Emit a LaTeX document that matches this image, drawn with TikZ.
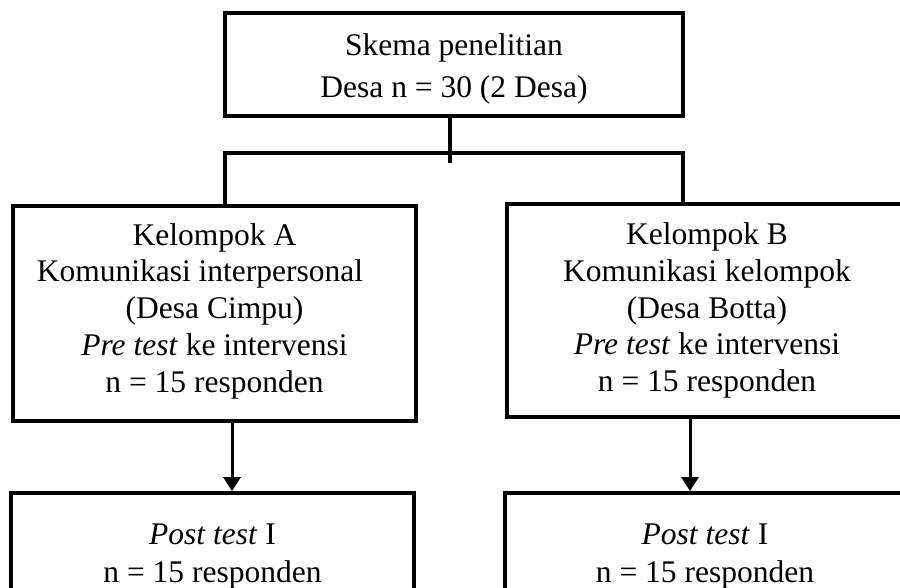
\documentclass[tikz,border=0pt]{standalone}
\usepackage{fontspec}
\setmainfont{Liberation Serif}
\usetikzlibrary{arrows.meta}
\begin{document}
\begin{tikzpicture}[x=1pt,y=1pt,
  box/.style={draw=black, line width=3.8pt, align=center, inner sep=0pt, font=\fontsize{31.5}{36.75}\selectfont},
  conn/.style={line width=3.5pt},
  arr/.style={line width=3pt, -{Triangle[width=17pt,length=14pt]}}]
\clip (0,0) rectangle (900,588);
\node[box, minimum width=458pt, minimum height=103pt, font=\fontsize{31.5}{42}\selectfont] (T) at (454,523.5) {\rule{0pt}{30pt}Skema penelitian\\Desa n = 30 (2 Desa)};
\node[box, minimum width=403pt, minimum height=215pt] (A) at (214.5,274.5) {Kelompok A\\\mbox{Komunikasi interpersonal\hspace{29pt}}\\(Desa Cimpu)\\\textit{Pre test} ke intervensi\\n = 15 responden\rule[-11.5pt]{0pt}{11.5pt}};
\node[box, minimum width=400pt, minimum height=213pt] (B) at (707,277.5) {Kelompok B\\Komunikasi kelompok\\(Desa Botta)\\\textit{Pre test} ke intervensi\\n = 15 responden};
\node[box, minimum width=403pt, minimum height=127.4pt, font=\fontsize{31.5}{38}\selectfont] (C) at (212.5,31.3) {\textit{Post test} I\\n = 15 responden};
\node[box, minimum width=400pt, minimum height=127.4pt, font=\fontsize{31.5}{38}\selectfont] (D) at (705,31.3) {\textit{Post test} I\\n = 15 responden};
\coordinate (sb) at (450,425);
\coordinate (jl) at (225,435);
\coordinate (jr) at (683,435);
\coordinate (aA) at (232,0);
\coordinate (aB) at (690,0);
\draw[conn] (sb |- T.south) -- (sb);
\draw[conn] (jl |- A.north) -- (jl) -- (jr) -- (jr |- B.north);
\draw[arr] (aA |- A.south) -- (aA |- C.north);
\draw[arr] (aB |- B.south) -- (aB |- D.north);
\end{tikzpicture}
\end{document}
